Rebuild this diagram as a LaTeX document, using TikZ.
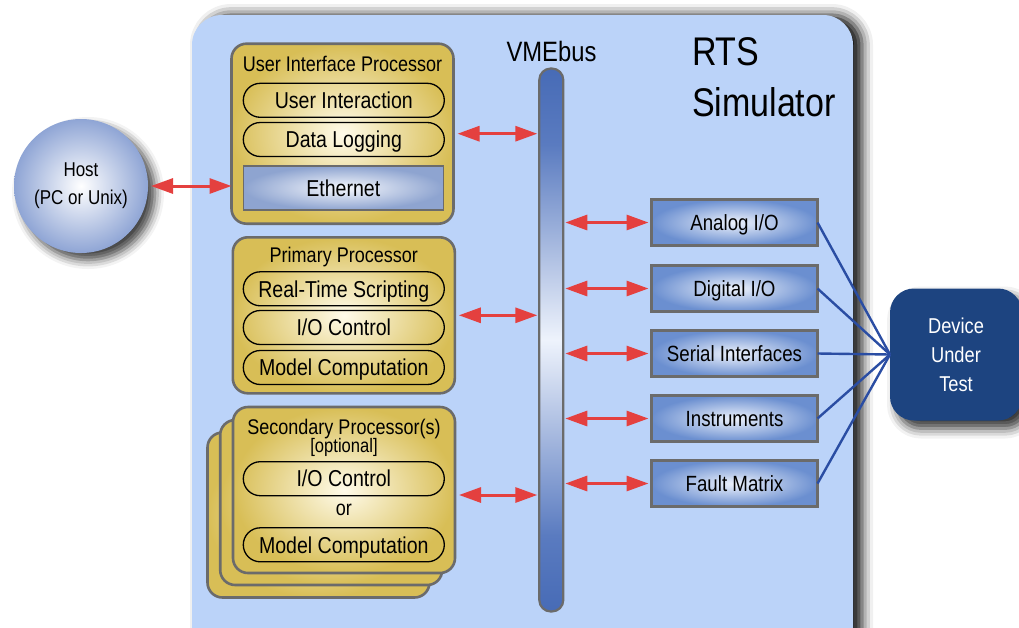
\documentclass[tikz,border=0pt]{standalone}
\usepackage{fontspec}
\setmainfont[FakeStretch=0.85]{Liberation Sans}
\usetikzlibrary{arrows.meta,shapes.misc,shadows.blur}
\definecolor{panelblue}{HTML}{BBD3F9}
\definecolor{goldout}{HTML}{D8BE56}
\definecolor{goldin}{HTML}{FFFBEA}
\definecolor{bordergray}{HTML}{6B6B6B}
\definecolor{ioout}{HTML}{6B8FD0}
\definecolor{ioin}{HTML}{EDF2FC}
\definecolor{ethout}{HTML}{8EA4D0}
\definecolor{ethin}{HTML}{F6F8FD}
\definecolor{busblue}{HTML}{476BB6}
\definecolor{busmid}{HTML}{5A7BC0}
\definecolor{buslight}{HTML}{EEF3FC}
\definecolor{hostout}{HTML}{8FA5D5}
\definecolor{dutblue}{HTML}{1D4480}
\definecolor{linkblue}{HTML}{2A4DA3}
\definecolor{arrowred}{HTML}{E4403F}
\pgfdeclareverticalshading{busshade}{100bp}{color(0bp)=(busblue); color(25bp)=(busblue); color(32bp)=(busmid); color(50bp)=(buslight); color(68bp)=(busmid); color(75bp)=(busblue); color(100bp)=(busblue)}
\newcommand\fpill{\fontsize{23}{27}\selectfont}
\newcommand\ftitle{\fontsize{21.2}{24}\selectfont}
\newcommand\fopt{\fontsize{19.5}{22}\selectfont}
\newcommand\fio{\fontsize{22}{26}\selectfont}
\newcommand\fhost{\fontsize{20}{28}\selectfont}
\newcommand\fdut{\fontsize{21.5}{29}\selectfont}
\newcommand\fbus{\fontsize{28}{32}\selectfont}
\newcommand\frts{\fontsize{40}{50}\selectfont}
\begin{document}
\begin{tikzpicture}[x=1pt,y=-1pt,
  every node/.style={inner sep=0pt, outer sep=0pt},
  procbox/.style={draw=bordergray, line width=2.6pt, rounded corners=15pt, inner color=goldin, outer color=goldout, minimum width=222pt},
  pill/.style={rounded rectangle, draw=black, line width=1.3pt, minimum width=201pt, minimum height=34pt, font=\fpill, text height=16.5pt, text depth=0pt},
  proctitle/.style={font=\ftitle, text height=15.2pt, text depth=0pt},
  ethbox/.style={draw=bordergray, line width=1.5pt, inner color=ethin, outer color=ethout, minimum width=200pt, minimum height=44pt, font=\fpill, text height=16.5pt, text depth=0pt},
  iobox/.style={draw=bordergray, line width=2.5pt, inner color=ioin, outer color=ioout, minimum width=166pt, minimum height=46pt, font=\fio, text height=15.8pt, text depth=0pt},
  busarrow/.style={draw=arrowred, line width=3pt, {Triangle[length=22pt,width=15pt]}-{Triangle[length=22pt,width=15pt]}},
  link/.style={draw=linkblue, line width=2.4pt}
]
\useasboundingbox (0,0) rectangle (1019,627);
% simulator panel
\fill[panelblue, rounded corners=30pt, blur shadow={shadow xshift=9pt, shadow yshift=0pt, shadow blur radius=11pt, shadow opacity=95}] (192,15) rectangle (853,660);

% host
\node[circle, minimum size=134pt, inner color=white, outer color=hostout, font=\fhost, align=center,
  blur shadow={shadow xshift=7pt, shadow yshift=-7pt, shadow blur radius=9pt, shadow opacity=75}] (host) at (81,186) {Host\\(PC or Unix)};

% user interface processor
\node[procbox, minimum height=180pt] (ui) at (342.5,133.7) {};
\node[proctitle] (uititle) at (342.5,64.2) {User Interface Processor};
\node[pill] (uiint) at (343.8,100.3) {User Interaction};
\node[pill] (datalog) at (343.8,139.5) {Data Logging};
\node[ethbox] (eth) at (343.3,188) {Ethernet};

% primary processor
\node[procbox, minimum height=156pt] (prim) at (343.8,315.3) {};
\node[proctitle] (primtitle) at (343.8,255) {Primary Processor};
\node[pill] (rtscript) at (343.8,288.8) {Real-Time Scripting};
\node[pill] (ioctl) at (343.8,327.5) {I/O Control};
\node[pill] (model) at (343.8,367.5) {Model Computation};

% secondary processors (stack)
\node[procbox, minimum height=165pt] (secc) at (318.5,515) {};
\node[procbox, minimum height=165pt] (secb) at (331.2,502.5) {};
\node[procbox, minimum height=166pt] (sec) at (344,490) {};
\node[proctitle] (sectitle) at (344,426.7) {Secondary Processor(s)};
\node[font=\fopt, text height=14pt, text depth=0pt] (secopt) at (344,445.5) {[optional]};
\node[font=\ftitle, text height=11pt, text depth=0pt] (secor) at (343.8,509.5) {or};
\node[pill] (secio) at (343.8,478.7) {I/O Control};
\node[pill] (secmodel) at (343.8,544.8) {Model Computation};

% VMEbus
\node[draw=bordergray, line width=2.2pt, rounded corners=11.5pt, minimum width=24pt, minimum height=543pt, shading=busshade] (bus) at (551.3,340) {};
\node[font=\fbus, anchor=base] (buslabel) at (551.5,61) {VMEbus};

% title
\node[font=\frts, anchor=base west] (rts) at (692,65) {RTS};
\node[font=\frts, anchor=base west] (sim) at (692,116) {Simulator};

% I/O boards
\node[iobox] (analog) at (734.5,222.5) {Analog I/O};
\node[iobox] (digital) at (734.5,288.5) {Digital I/O};
\node[iobox] (serial) at (734.5,353.5) {Serial Interfaces};
\node[iobox] (instr) at (734.5,418.5) {Instruments};
\node[iobox] (fault) at (734.5,483.5) {Fault Matrix};

% device under test
\node[rectangle, rounded corners=24pt, minimum width=132pt, minimum height=132pt, fill=dutblue, text=white, font=\fdut, align=center,
  blur shadow={shadow xshift=7pt, shadow yshift=-8pt, shadow blur radius=10pt, shadow opacity=80}] (dut) at (956,354.5) {Device\\Under\\Test};

% arrows
\draw[busarrow, shorten <=3pt] (host.east) -- (host.east -| ui.west);
\draw[busarrow] ([xshift=4pt]ui.east) -- ([xshift=-2pt]ui.east -| bus.west);
\draw[busarrow] ([xshift=4pt]prim.east) -- ([xshift=-2pt]prim.east -| bus.west);
\draw[busarrow] ([xshift=4pt,yshift=-5pt]sec.east) -- ([xshift=-2pt,yshift=-5pt]sec.east -| bus.west);
\foreach \b in {analog,digital,serial,instr,fault}{
  \draw[busarrow] ([xshift=2pt]\b.west -| bus.east) -- ([xshift=-3pt]\b.west);
  \draw[link] (\b.east) -- (dut.west);
}
\end{tikzpicture}
\end{document}
